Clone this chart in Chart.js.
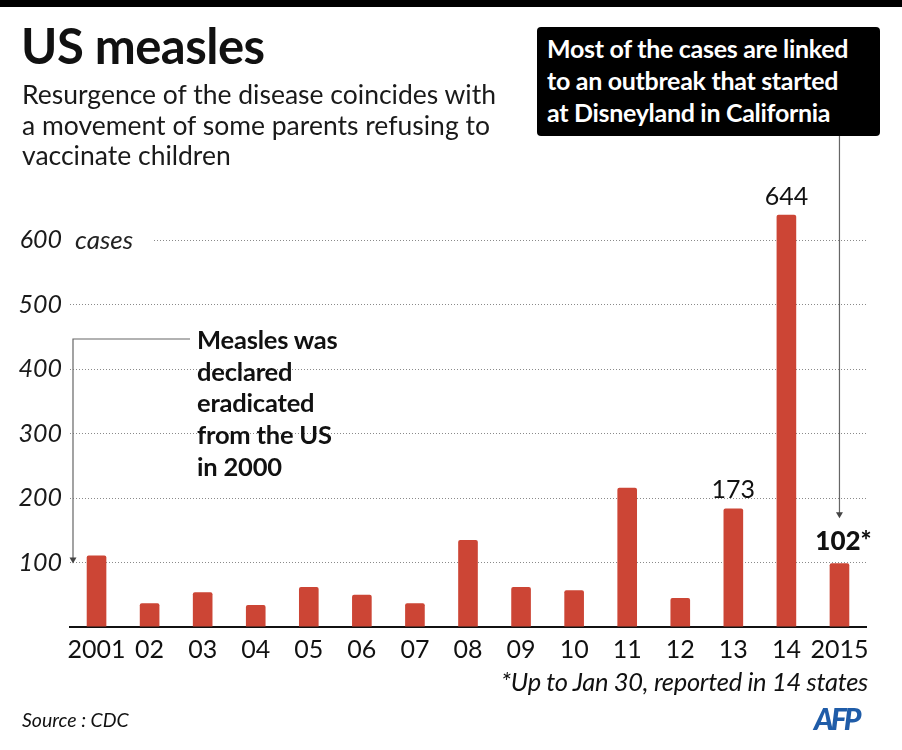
<!DOCTYPE html>
<html>
<head>
<meta charset="utf-8">
<script src="https://cdn.jsdelivr.net/npm/chart.js@4"></script>
<style>
  html, body { margin: 0; padding: 0; background: #fff; }
  #wrap { position: relative; width: 902px; height: 750px; overflow: hidden; font-family: Lato, sans-serif; color: #111; }
  #topbar { position: absolute; left: 0; top: 0; width: 902px; height: 7px; background: #000; }
  canvas { position: absolute; left: 0; top: 0; }
  .title { position: absolute; left: 21px; top: 17px; font-size: 49px; font-weight: 700; line-height: 56px; letter-spacing: -0.5px; }
  .subtitle { position: absolute; left: 22px; top: 79px; font-size: 26.5px; font-weight: 400; line-height: 30.5px; color: #1a1a1a; }
  .box { position: absolute; left: 537px; top: 27px; width: 343px; height: 109px; background: #000; color: #fff;
         border-radius: 4px; padding: 5px 0 0 10px; box-sizing: border-box; font-size: 25px; font-weight: 700; line-height: 32px; letter-spacing: -0.3px; }
  .note { position: absolute; left: 197px; top: 324px; font-size: 25.5px; font-weight: 700; line-height: 31.7px; color: #111; letter-spacing: -0.2px; }
  .foot { position: absolute; right: 34px; top: 666px; font-size: 25.5px; font-style: italic; font-weight: 400; letter-spacing: -0.3px; }
  .source { position: absolute; left: 22px; top: 708px; font-size: 19.5px; font-style: italic; font-weight: 400; }
  .afp { position: absolute; left: 814px; top: 700px; font-size: 30px; font-weight: 900; font-style: italic; color: #1f5ca8; letter-spacing: -3px; }
</style>
</head>
<body>
<div id="wrap">
  <canvas id="measlesChart" width="902" height="750"></canvas>
  <div id="topbar"></div>
  <div class="title">US measles</div>
  <div class="subtitle">Resurgence of the disease coincides with<br>a movement of some parents refusing to<br>vaccinate children</div>
  <div class="box">Most of the cases are linked<br>to an outbreak that started<br>at Disneyland in California</div>
  <div class="note">Measles was<br>declared<br>eradicated<br>from the US<br>in 2000</div>
  <div class="foot">*Up to Jan 30, reported in 14 states</div>
  <div class="source">Source : CDC</div>
  <div class="afp">AFP</div>
</div>
<script>
// bar values as drawn (cases per year)
const years  = ['2001', '02', '03', '04', '05', '06', '07', '08', '09', '10', '11', '12', '13', '14', '2015'];
const cases  = [111, 37, 54, 34, 62, 50, 37, 135, 62, 57, 216, 45, 184, 640, 99];
const valueLabels = ['', '', '', '', '', '', '', '', '', '', '', '', '173', '644', '102*'];
const yTicks = [100, 200, 300, 400, 500, 600];

const BAR_COLOR = '#cc4535';
const INK = '#111';

// value labels, the "cases" unit and the two pointer arrows
const decorations = {
  id: 'decorations',
  beforeDatasetsDraw(chart) {
    const { ctx, chartArea, scales } = chart;
    const y600 = scales.y.getPixelForValue(600);
    ctx.save();
    ctx.fillStyle = '#fff';
    ctx.fillRect(chartArea.left, y600 - 4, 82, 8);
    ctx.fillStyle = '#222';
    ctx.font = 'italic 400 26px Lato';
    ctx.textBaseline = 'middle';
    ctx.textAlign = 'left';
    ctx.fillText('cases', chartArea.left + 5, y600);
    ctx.restore();
  },
  afterDatasetsDraw(chart) {
    const { ctx, chartArea, scales } = chart;
    const bars = chart.getDatasetMeta(0).data;
    ctx.save();
    ctx.textAlign = 'center';
    ctx.textBaseline = 'alphabetic';
    ctx.fillStyle = INK;
    bars.forEach((bar, i) => {
      if (!valueLabels[i]) return;
      const last = i === bars.length - 1;
      ctx.font = last ? '900 26px Lato' : '400 25px Lato';
      ctx.fillText(valueLabels[i], bar.x + (last ? 4 : 0), bar.y - (last ? 13 : 10));
    });

    // pointer to 2001
    ctx.strokeStyle = '#666';
    ctx.fillStyle = '#444';
    ctx.lineWidth = 1.2;
    const ax = chartArea.left + 3;
    const yTop = scales.y.getPixelForValue(447);
    const yEnd = scales.y.getPixelForValue(100);
    ctx.beginPath();
    ctx.moveTo(190, yTop);
    ctx.lineTo(ax, yTop);
    ctx.lineTo(ax, yEnd - 2);
    ctx.stroke();
    arrowHead(ctx, ax, yEnd + 1);

    // pointer from the box to 2015
    const last = bars[bars.length - 1];
    const bx = last.x;
    const bEnd = last.y - 46;
    ctx.beginPath();
    ctx.moveTo(bx, 136);
    ctx.lineTo(bx, bEnd - 2);
    ctx.stroke();
    arrowHead(ctx, bx, bEnd + 1);
    ctx.restore();
  }
};

function arrowHead(ctx, x, y) {
  ctx.beginPath();
  ctx.moveTo(x - 3.5, y - 6);
  ctx.lineTo(x + 3.5, y - 6);
  ctx.lineTo(x, y);
  ctx.closePath();
  ctx.fill();
}

new Chart(document.getElementById('measlesChart'), {
  type: 'bar',
  data: {
    labels: years,
    datasets: [{
      data: cases,
      backgroundColor: BAR_COLOR,
      borderRadius: { topLeft: 2, topRight: 2 },
      borderSkipped: 'bottom',
      barPercentage: 0.37,
      categoryPercentage: 1.0,
    }],
  },
  options: {
    responsive: false,
    animation: false,
    layout: { padding: { left: 0, right: 36, top: 176, bottom: 0 } },
    plugins: { legend: { display: false }, tooltip: { enabled: false } },
    scales: {
      x: {
        afterFit: s => { s.height = 123; },
        grid: { display: false, drawTicks: false },
        border: { color: INK, width: 2 },
        ticks: { color: INK, padding: 8, font: { family: 'Lato', size: 25, weight: 400 }, maxRotation: 0, autoSkip: false },
      },
      y: {
        min: 0, max: 700,
        afterFit: s => { s.width = 70; },
        afterBuildTicks: s => { s.ticks = [0, ...yTicks, 700].map(v => ({ value: v })); },
        grid: {
          drawTicks: false,
          color: c => (yTicks.includes(c.tick.value) ? '#8a8a8a' : 'rgba(0,0,0,0)'),
          lineWidth: 1,
        },
        border: { display: false, dash: [1, 2] },
        ticks: {
          color: '#1a1a1a', padding: 8,
          font: { family: 'Lato', size: 25, style: 'italic', weight: 400 },
          callback: v => (yTicks.includes(v) ? String(v) : ''),
        },
      },
    },
  },
  plugins: [decorations],
});
</script>
</body>
</html>
